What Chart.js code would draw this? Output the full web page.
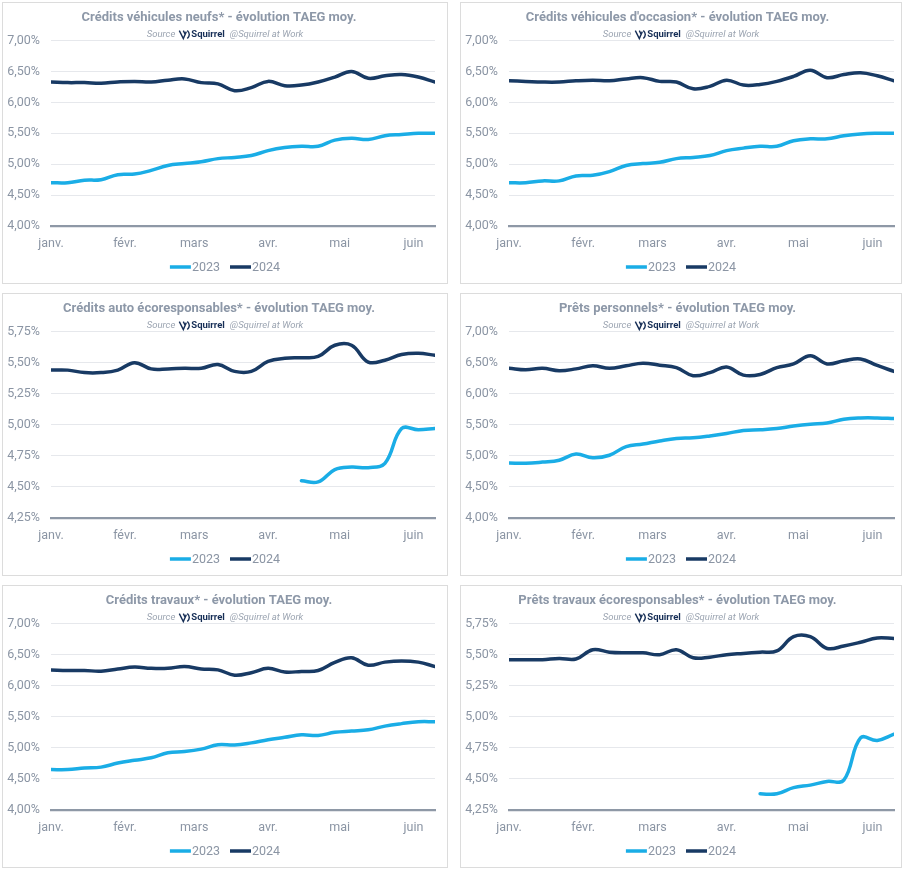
<!DOCTYPE html>
<html lang="fr">
<head>
<meta charset="utf-8">
<title>Évolution TAEG moyen</title>
<script src="https://cdn.jsdelivr.net/npm/chart.js@4.4.1/dist/chart.umd.min.js"></script>
<style>
  body { margin: 0; background: #fff; width: 908px; height: 870px; position: relative; overflow: hidden; }
  .panel { position: absolute; border: 1px solid #dcdcdc; box-sizing: border-box; background: #fff; }
  .panel canvas { display: block; }
</style>
</head>
<body>
<div class="panel" style="left:2px;top:2px;width:446px;height:282px"><canvas id="neufs"></canvas></div>
<div class="panel" style="left:460px;top:2px;width:442px;height:282px"><canvas id="occasion"></canvas></div>
<div class="panel" style="left:2px;top:293px;width:446px;height:283px"><canvas id="autoEco"></canvas></div>
<div class="panel" style="left:460px;top:293px;width:442px;height:283px"><canvas id="pretsPerso"></canvas></div>
<div class="panel" style="left:2px;top:585px;width:446px;height:283px"><canvas id="travaux"></canvas></div>
<div class="panel" style="left:460px;top:585px;width:442px;height:283px"><canvas id="travauxEco"></canvas></div>

<script>
// Semaines (jour depuis le 1er janvier) et repères de mois
const weekDays = [0, 7, 14, 21, 28, 35, 42, 49, 56, 63, 70, 77, 84, 91, 98, 105, 112, 119, 126, 133, 140, 147, 154, 161];
const monthDays = [0, 31, 60, 91, 121, 152];
const monthLabels = ['janv.', 'févr.', 'mars', 'avr.', 'mai', 'juin'];
const seriesNames = ['2023', '2024'];

// Graduations Y
const ticksLarge = [4.00, 4.50, 5.00, 5.50, 6.00, 6.50, 7.00];
const ticksEco = [4.25, 4.50, 4.75, 5.00, 5.25, 5.50, 5.75];

// TAEG moyen (%)
const neufs2023 = [4.70, 4.70, 4.74, 4.75, 4.83, 4.84, 4.90, 4.98, 5.01, 5.04, 5.09, 5.11, 5.14, 5.22, 5.27, 5.29, 5.29, 5.39, 5.42, 5.40, 5.46, 5.48, 5.50, 5.50];
const neufs2024 = [6.33, 6.32, 6.32, 6.31, 6.33, 6.34, 6.33, 6.36, 6.38, 6.32, 6.30, 6.19, 6.24, 6.34, 6.27, 6.28, 6.33, 6.41, 6.50, 6.39, 6.43, 6.45, 6.41, 6.33];

const occasion2023 = [4.70, 4.70, 4.73, 4.73, 4.81, 4.82, 4.88, 4.98, 5.01, 5.03, 5.09, 5.11, 5.14, 5.22, 5.26, 5.29, 5.29, 5.38, 5.41, 5.41, 5.46, 5.49, 5.50, 5.50];
const occasion2024 = [6.35, 6.34, 6.33, 6.33, 6.35, 6.36, 6.35, 6.38, 6.40, 6.34, 6.33, 6.22, 6.26, 6.36, 6.28, 6.29, 6.34, 6.42, 6.52, 6.40, 6.45, 6.48, 6.43, 6.35];

const autoEco2023 = [null, null, null, null, null, null, null, null, null, null, null, null, null, null, null, 4.55, 4.54, 4.64, 4.66, 4.655, 4.69, 4.97, 4.96, 4.97];
const autoEco2024 = [5.44, 5.44, 5.42, 5.42, 5.44, 5.50, 5.45, 5.45, 5.455, 5.455, 5.485, 5.43, 5.43, 5.51, 5.535, 5.54, 5.55, 5.64, 5.64, 5.505, 5.52, 5.565, 5.575, 5.56];

const pretsPerso2023 = [4.885, 4.88, 4.90, 4.93, 5.03, 4.97, 5.01, 5.15, 5.19, 5.24, 5.28, 5.29, 5.32, 5.36, 5.41, 5.42, 5.44, 5.48, 5.51, 5.53, 5.59, 5.61, 5.61, 5.60];
const pretsPerso2024 = [6.41, 6.385, 6.41, 6.37, 6.40, 6.45, 6.41, 6.45, 6.49, 6.46, 6.42, 6.29, 6.34, 6.43, 6.30, 6.31, 6.42, 6.48, 6.61, 6.48, 6.53, 6.56, 6.455, 6.36];

const travaux2023 = [4.65, 4.65, 4.675, 4.69, 4.755, 4.80, 4.84, 4.92, 4.94, 4.98, 5.05, 5.045, 5.08, 5.13, 5.17, 5.21, 5.20, 5.25, 5.27, 5.29, 5.35, 5.39, 5.42, 5.42];
const travaux2024 = [6.255, 6.245, 6.245, 6.235, 6.27, 6.30, 6.28, 6.28, 6.31, 6.27, 6.255, 6.17, 6.21, 6.28, 6.22, 6.23, 6.245, 6.375, 6.45, 6.33, 6.38, 6.40, 6.38, 6.31];

const travauxEco2023 = [null, null, null, null, null, null, null, null, null, null, null, null, null, null, null, 4.38, 4.38, 4.43, 4.45, 4.48, 4.49, 4.83, 4.81, 4.86];
const travauxEco2024 = [5.46, 5.46, 5.46, 5.47, 5.465, 5.54, 5.52, 5.515, 5.515, 5.50, 5.54, 5.475, 5.48, 5.50, 5.51, 5.52, 5.53, 5.645, 5.645, 5.55, 5.57, 5.60, 5.635, 5.63];

const lightBlue = '#1aade6';
const navy = '#183a64';
const grayText = '#8b95a4';
const FONT = 'Roboto, "Liberation Sans", sans-serif';

// Ligne "Source Squirrel @Squirrel at Work"
const sourceLine = {
  id: 'sourceLine',
  afterDraw(chart) {
    const ctx = chart.ctx;
    const y = chart.chartArea.top - 6;
    const parts = [
      { t: 'Source', f: 'italic 9.5px ' + FONT, c: '#9ba4b1', gap: 4 },
      { logo: true, w: 11, gap: 1 },
      { t: 'Squirrel', f: 'bold 9.5px ' + FONT, c: '#172f57', gap: 5 },
      { t: '@Squirrel at Work', f: 'italic 9.5px ' + FONT, c: '#9ba4b1', gap: 0 }
    ];
    ctx.save();
    let total = 0;
    parts.forEach(p => {
      if (!p.logo) { ctx.font = p.f; p.w = ctx.measureText(p.t).width; }
      total += p.w + p.gap;
    });
    let x = chart.width / 2 - total / 2;
    ctx.textBaseline = 'middle';
    parts.forEach(p => {
      if (p.logo) {
        ctx.strokeStyle = '#172f57';
        ctx.lineWidth = 1.4;
        ctx.beginPath();
        ctx.moveTo(x, y - 4); ctx.lineTo(x + 4, y + 4); ctx.lineTo(x + 7, y - 3);
        ctx.moveTo(x + 4, y - 4); ctx.lineTo(x + 6, y);
        ctx.moveTo(x + 8, y - 4); ctx.quadraticCurveTo(x + 12, y, x + 8, y + 4);
        ctx.stroke();
      } else {
        ctx.font = p.f;
        ctx.fillStyle = p.c;
        ctx.fillText(p.t, x, y);
      }
      x += p.w + p.gap;
    });
    ctx.restore();
  }
};

// Légende compacte façon Excel : trait puis libellé collé
const lineLegend = {
  id: 'lineLegend',
  afterDraw(chart) {
    const ctx = chart.ctx;
    const y = chart.height - 16;
    const font = '12.5px ' + FONT;
    ctx.save();
    ctx.font = font;
    const items = chart.data.datasets.map(ds => ({
      text: ds.label, color: ds.borderColor, w: 21 + 1 + ctx.measureText(ds.label).width
    }));
    const total = items.reduce((a, it) => a + it.w, 0) + 10 * (items.length - 1);
    let x = chart.width / 2 - total / 2;
    ctx.textBaseline = 'middle';
    items.forEach(it => {
      ctx.strokeStyle = it.color;
      ctx.lineWidth = 3.5;
      ctx.beginPath();
      ctx.moveTo(x, y); ctx.lineTo(x + 21, y);
      ctx.stroke();
      ctx.fillStyle = grayText;
      ctx.fillText(it.text, x + 22, y + 0.5);
      x += it.w + 10;
    });
    ctx.restore();
  }
};

function pct(v) {
  return v.toFixed(2).replace('.', ',') + '%';
}

function makeChart(id, title, yTicks, s2023, s2024, rightPad) {
  new Chart(document.getElementById(id), {
    type: 'line',
    data: {
      datasets: [
        {
          label: seriesNames[0],
          data: weekDays.map((d, i) => ({ x: d, y: s2023[i] })),
          borderColor: lightBlue,
          backgroundColor: lightBlue,
          borderWidth: 3.5,
          tension: 0.4,
          pointRadius: 0,
          borderCapStyle: 'round'
        },
        {
          label: seriesNames[1],
          data: weekDays.map((d, i) => ({ x: d, y: s2024[i] })),
          borderColor: navy,
          backgroundColor: navy,
          borderWidth: 3.5,
          tension: 0.4,
          pointRadius: 0,
          borderCapStyle: 'round'
        }
      ]
    },
    options: {
      responsive: true,
      maintainAspectRatio: false,
      animation: false,
      layout: { padding: { top: 7, left: 0, right: rightPad, bottom: 33 } },
      plugins: {
        title: {
          display: true,
          text: title,
          color: '#8d98a8',
          font: { family: FONT, size: 13, weight: 'bold' },
          padding: { top: 0, bottom: 15 }
        },
        legend: { display: false },
        tooltip: { enabled: false }
      },
      scales: {
        x: {
          type: 'linear',
          min: weekDays[0],
          max: weekDays[weekDays.length - 1],
          afterBuildTicks: s => { s.ticks = monthDays.map(v => ({ value: v })); },
          afterFit: s => { s.height = 24; },
          ticks: {
            color: grayText,
            font: { family: FONT, size: 12.5 },
            padding: 10,
            maxRotation: 0,
            autoSkip: false,
            callback: v => monthLabels[monthDays.indexOf(v)]
          },
          grid: { display: false, drawTicks: false },
          border: { display: true, color: '#8e98a6', width: 2.2 }
        },
        y: {
          min: yTicks[0],
          max: yTicks[yTicks.length - 1],
          afterBuildTicks: s => { s.ticks = yTicks.map(v => ({ value: v })); },
          afterFit: s => { s.width = 48; },
          ticks: {
            color: grayText,
            font: { family: FONT, size: 12.5 },
            padding: 11,
            callback: v => pct(v)
          },
          grid: { color: '#e6e8ec', drawTicks: false },
          border: { display: false }
        }
      }
    },
    plugins: [sourceLine, lineLegend]
  });
}

makeChart('neufs', 'Crédits véhicules neufs* - évolution TAEG moy.', ticksLarge, neufs2023, neufs2024, 12);
makeChart('occasion', "Crédits véhicules d'occasion* - évolution TAEG moy.", ticksLarge, occasion2023, occasion2024, 7);
makeChart('autoEco', 'Crédits auto écoresponsables* - évolution TAEG moy.', ticksEco, autoEco2023, autoEco2024, 12);
makeChart('pretsPerso', 'Prêts personnels* - évolution TAEG moy.', ticksLarge, pretsPerso2023, pretsPerso2024, 7);
makeChart('travaux', 'Crédits travaux* - évolution TAEG moy.', ticksLarge, travaux2023, travaux2024, 12);
makeChart('travauxEco', 'Prêts travaux écoresponsables* - évolution TAEG moy.', ticksEco, travauxEco2023, travauxEco2024, 7);
</script>
</body>
</html>
